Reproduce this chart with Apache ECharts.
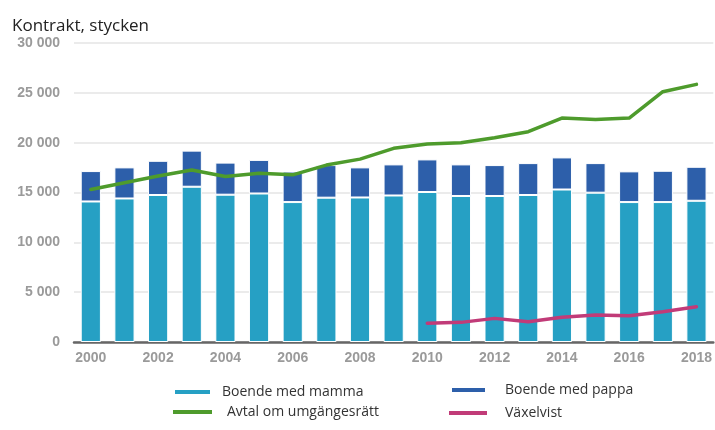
<!DOCTYPE html>
<html>
<head>
<meta charset="utf-8">
<script src="https://cdn.jsdelivr.net/npm/echarts@6/dist/echarts.min.js"></script>
<style>
html,body{margin:0;padding:0;background:#fff;}
#chart{width:715px;height:430px;}
</style>
</head>
<body>
<div id="chart"></div>
<script>
const years = ['2000','2001','2002','2003','2004','2005','2006','2007','2008','2009','2010','2011','2012','2013','2014','2015','2016','2017','2018'];
const mamma = [14100,14400,14750,15580,14780,14900,14040,14480,14500,14700,15050,14650,14650,14750,15300,14980,14040,14040,14170];
const pappa = [3050,3120,3430,3620,3220,3370,3060,3270,3020,3120,3270,3170,3100,3200,3220,2970,3080,3140,3410];
const avtal = [15310,15980,16650,17250,16600,16920,16770,17750,18350,19430,19860,19990,20490,21100,22470,22330,22470,25110,25850];
const vaxelvist = [null,null,null,null,null,null,null,null,null,null,1880,1970,2370,2040,2480,2710,2640,3040,3540];
const names = ['Boende med mamma','Boende med pappa','Avtal om umgängesrätt','Växelvist'];
const colors = ['#26a0c4','#2d5faa','#4e9b2c','#c13b78'];

const chart = echarts.init(document.getElementById('chart'), null, {renderer:'canvas'});
const fmt = v => String(v).replace(/\B(?=(\d{3})+(?!\d))/g, ' ');
const sansUI = 'Open Sans, Noto Sans, sans-serif';
function leg(name, left, top, w, pad) {
  return {
    data:[name], left:left, top:top, icon:'rect', itemWidth:w, itemHeight:4, padding:0,
    itemStyle:{borderWidth:0},
    textStyle:{fontFamily:sansUI, fontSize:14, color:'#333', padding:[0,0,0,pad]}
  };
}
chart.setOption({
  animation:false,
  color: colors,
  title:{text:'Kontrakt, stycken', left:7, top:13,
    textStyle:{fontFamily:sansUI, fontSize:17, fontWeight:'normal', color:'#222'}},
  grid:{left:74, right:0, top:43, bottom:88},
  legend:[
    leg(names[0], 175, 385, 35, 7),
    leg(names[1], 452, 383, 33, 15),
    leg(names[2], 173, 405, 39, 10),
    leg(names[3], 449, 406, 38, 13)
  ],
  xAxis:{type:'category', data:years,
    axisLine:{lineStyle:{color:'#666', width:2.5}},
    axisTick:{show:false},
    axisLabel:{interval:1, margin:9, color:'#9a9a9a', fontWeight:'bold', fontSize:14, fontFamily:'Liberation Sans, Arial, sans-serif'}},
  yAxis:{type:'value', min:0, max:30000, interval:5000,
    axisLabel:{formatter:fmt, margin:14, color:'#9a9a9a', fontWeight:'bold', fontSize:14, fontFamily:'Liberation Sans, Arial, sans-serif'},
    splitLine:{lineStyle:{color:'#e4e4e4', width:1.5}}},
  series:[
    {name:names[0], type:'bar', stack:'s', data:mamma, barWidth:'60%',
      itemStyle:{color:colors[0], borderColor:'#fff', borderWidth:1}},
    {name:names[1], type:'bar', stack:'s', data:pappa, barWidth:'60%',
      itemStyle:{color:colors[1], borderColor:'#fff', borderWidth:1}},
    {name:names[2], type:'line', data:avtal, showSymbol:false, symbol:'none',
      lineStyle:{color:colors[2], width:3.5, cap:'round', join:'round'}, itemStyle:{color:colors[2]}},
    {name:names[3], type:'line', data:vaxelvist, showSymbol:false, symbol:'none',
      lineStyle:{color:colors[3], width:3.5, cap:'round', join:'round'}, itemStyle:{color:colors[3]}}
  ]
});
</script>
</body>
</html>
